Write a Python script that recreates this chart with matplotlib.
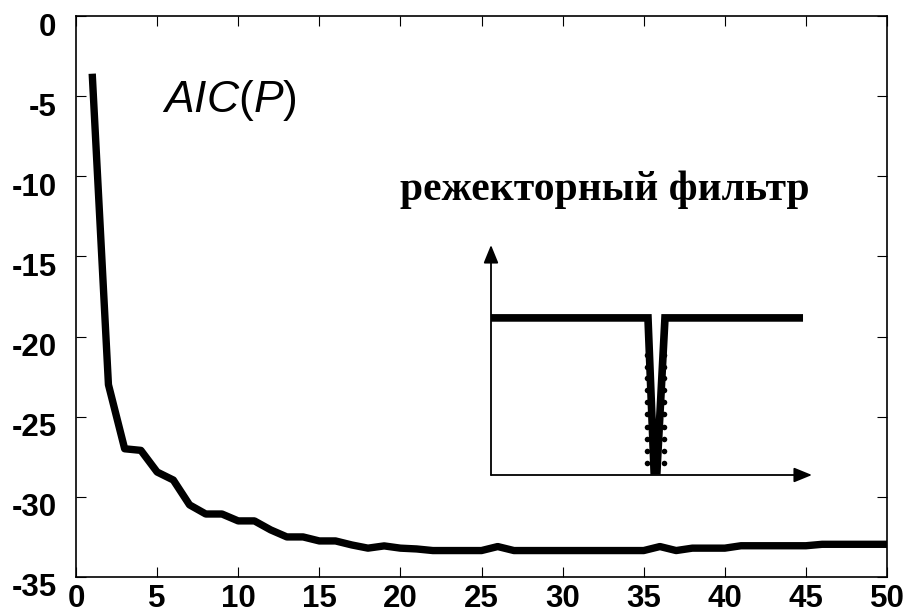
import numpy as np
import matplotlib
matplotlib.use('Agg')
import matplotlib.pyplot as plt
from matplotlib.transforms import ScaledTranslation

plt.rcParams['mathtext.fontset'] = 'custom'
plt.rcParams['mathtext.rm'] = 'Liberation Sans'
plt.rcParams['mathtext.it'] = 'Liberation Sans:italic'

# AIC versus model order P
order = np.arange(1, 51)
aic = [-3.6, -23.0, -27.0, -27.1, -28.45, -28.95, -30.5, -31.07, -31.07, -31.5,
       -31.5, -32.06, -32.5, -32.5, -32.75, -32.75, -33.0, -33.2, -33.06, -33.2,
       -33.25, -33.35, -33.35, -33.35, -33.35, -33.1, -33.35, -33.35, -33.35, -33.35,
       -33.35, -33.35, -33.35, -33.35, -33.35, -33.1, -33.35, -33.2, -33.2, -33.2,
       -33.05, -33.05, -33.05, -33.05, -33.05, -32.96, -32.96, -32.96, -32.96, -32.96]

xticks = [0, 5, 10, 15, 20, 25, 30, 35, 40, 45, 50]
yticks = [0, -5, -10, -15, -20, -25, -30, -35]

# notch-filter sketch (inset units 0..1)
notch_x = [0.0, 0.489, 0.508, 0.517, 0.542, 0.972]
notch_y = [0.683, 0.683, 0.018, 0.018, 0.683, 0.683]
dots_left = 0.486
dots_right = 0.540
dots_y = [0.522, 0.47, 0.422, 0.370, 0.317, 0.265, 0.209, 0.157, 0.104, 0.052]

fig = plt.figure(figsize=(9.1, 6.16), dpi=100)
ax = fig.add_axes([76/910, 1-577/616, (887-76)/910, (577-16)/616])

ax.plot(order, aic, color='black', lw=5.3, solid_joinstyle='round', solid_capstyle='butt')
ax.set_xlim(0, 50)
ax.set_ylim(-35, 0)
ax.set_xticks(xticks)
ax.set_yticks(yticks)
ax.set_xticklabels([str(v) for v in xticks])
ax.set_yticklabels([str(v) for v in yticks])
ax.tick_params(direction='in', length=7, width=0.8, top=True, right=True,
               labelsize=22.5, colors='black')
ax.tick_params(axis='x', pad=5)
ax.tick_params(axis='y', pad=14)
for lab in ax.get_xticklabels() + ax.get_yticklabels():
    lab.set_family('Liberation Sans')
    lab.set_fontweight('bold')
for sp in ax.spines.values():
    sp.set_linewidth(1.2)

off = ScaledTranslation(0, -8/100, fig.dpi_scale_trans)
for t in ax.yaxis.get_major_ticks():
    t.label1.set_transform(t.label1.get_transform() + off)

fig.text(162/910, 1-112/616, r'$\mathit{AIC}(\mathit{P})$', fontsize=32,
         va='baseline', ha='left')
fig.text(400/910, 1-200/616, 'режекторный фильтр', family='Liberation Serif',
         fontweight='bold', fontsize=30, va='baseline', ha='left')

ins = fig.add_axes([491/910, 1-475/616, (812-491)/910, (475-245)/616])
ins.set_xlim(0, 1)
ins.set_ylim(0, 1)
ins.axis('off')
arrow = dict(arrowstyle='-|>,head_length=1.1,head_width=0.45', color='black',
             lw=1.3, shrinkA=0, shrinkB=0)
ins.annotate('', xy=(0, 1), xytext=(0, 0), arrowprops=arrow)
ins.annotate('', xy=(1, 0), xytext=(0, 0), arrowprops=arrow)
ins.plot(notch_x, notch_y, color='black', lw=5.5, solid_joinstyle='miter',
         solid_capstyle='butt', clip_on=False)
ins.scatter([dots_left] * len(dots_y), dots_y, s=16, color='black', lw=0, clip_on=False)
ins.scatter([dots_right] * len(dots_y), dots_y, s=16, color='black', lw=0, clip_on=False)

fig.savefig('out.png', dpi=100)
